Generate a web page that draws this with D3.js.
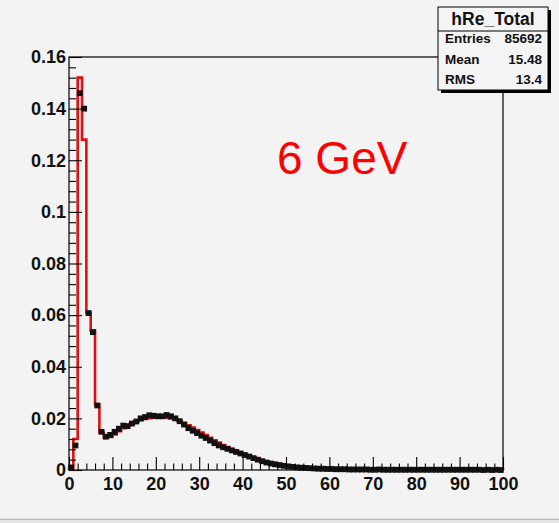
<!DOCTYPE html>
<html>
<head>
<meta charset="utf-8">
<script src="https://cdn.jsdelivr.net/npm/d3@7"></script>
<style>
  html, body { margin: 0; padding: 0; background: #f3f3f3; }
  svg { display: block; }
  text { font-family: "Liberation Sans", Arial, Helvetica, sans-serif; }
</style>
</head>
<body>
<script>
// ---- data ----
const binEdgesStart = 0;   // first bin lower edge
const binWidth = 1;        // bin width (units of x)
const dataValues = [
  0.0010, 0.0095, 0.1460, 0.1400, 0.0608, 0.0534, 0.0250, 0.0148, 0.0129, 0.0136,
  0.0148, 0.0160, 0.0172, 0.0170, 0.0180, 0.0188, 0.0200, 0.0205, 0.0212, 0.0210,
  0.0208, 0.0208, 0.0213, 0.0208, 0.0200, 0.0189, 0.0176, 0.0162, 0.0152, 0.0143,
  0.0133, 0.0124, 0.0114, 0.0104, 0.0095, 0.0088, 0.0082, 0.0076, 0.0070, 0.0064,
  0.0058, 0.0052, 0.0046, 0.0040, 0.0034, 0.0029, 0.0025, 0.0022, 0.0019, 0.0016,
  0.0014, 0.0012, 0.0010, 0.0009, 0.0008, 0.0007, 0.0006, 0.0005, 0.0005, 0.0004,
  0.0004, 0.0003, 0.0003, 0.0003, 0.0002, 0.0002, 0.0002, 0.0002, 0.0002, 0.0001,
  0.0001, 0.0002, 0.0001, 0.0001, 0.0001, 0.0001, 0.0001, 0.0001, 0.0001, 0.0001,
  0.0001, 0.0001, 0.0001, 0.0001, 0.0001, 0.0001, 0.0001, 0.0001, 0.0001, 0.0001,
  0.0001, 0.0001, 0.0001, 0.0001, 0.0001, 0.0000, 0.0001, 0.0000, 0.0001, 0.0000
];
const mcValues = [
  0.0005, 0.0120, 0.1520, 0.1280, 0.0610, 0.0540, 0.0255, 0.0145, 0.0125, 0.0128,
  0.0138, 0.0150, 0.0162, 0.0172, 0.0180, 0.0187, 0.0193, 0.0198, 0.0201, 0.0203,
  0.0204, 0.0204, 0.0203, 0.0200, 0.0196, 0.0190, 0.0182, 0.0173, 0.0164, 0.0155,
  0.0145, 0.0135, 0.0125, 0.0115, 0.0106, 0.0097, 0.0089, 0.0081, 0.0074, 0.0067,
  0.0061, 0.0055, 0.0049, 0.0044, 0.0039, 0.0034, 0.0030, 0.0026, 0.0023, 0.0020,
  0.0017, 0.0015, 0.0013, 0.0012, 0.0011, 0.0010, 0.0010, 0.0009, 0.0007, 0.0006,
  0.0005, 0.0004, 0.0004, 0.0004, 0.0003, 0.0003, 0.0003, 0.0003, 0.0002, 0.0002,
  0.0002, 0.0002, 0.0002, 0.0002, 0.0002, 0.0002, 0.0003, 0.0003, 0.0003, 0.0003,
  0.0003, 0.0003, 0.0003, 0.0003, 0.0003, 0.0003, 0.0003, 0.0003, 0.0003, 0.0003,
  0.0004, 0.0004, 0.0004, 0.0004, 0.0004, 0.0002, 0.0002, 0.0004, 0.0004, 0.0003
];
const xTicks = [0, 10, 20, 30, 40, 50, 60, 70, 80, 90, 100];
const yTicks = [0, 0.02, 0.04, 0.06, 0.08, 0.10, 0.12, 0.14, 0.16];
const xMinorStep = 2;
const yMinorStep = 0.004;
const statsTitle = "hRe_Total";
const statsRows = [["Entries", "85692"], ["Mean", "15.48"], ["RMS", "13.4"]];
const annotation = "6 GeV";

// ---- layout ----
const W = 559, H = 523;
const svg = d3.select("body").append("svg").attr("width", W).attr("height", H);
svg.append("rect").attr("width", W).attr("height", H).attr("fill", "#f3f3f3");
svg.append("line").attr("x1", 0).attr("x2", W).attr("y1", 519.5).attr("y2", 519.5)
  .attr("stroke", "#b8b8b8").attr("stroke-width", 1.5);
svg.append("rect").attr("x", 0).attr("y", 520.5).attr("width", W).attr("height", 3).attr("fill", "#e6e6e6");

const x = d3.scaleLinear().domain([0, 100]).range([69, 503]);
const y = d3.scaleLinear().domain([0, 0.16]).range([470, 57]);

const xMinor = d3.range(0, 100 + 1e-9, xMinorStep).filter(v => xTicks.indexOf(v) < 0);
const yMinor = d3.range(0, 0.16 + 1e-9, yMinorStep).map(v => +v.toFixed(3))
  .filter(v => !yTicks.some(t => Math.abs(t - v) < 1e-9));

// frame
svg.append("rect").attr("x", x(0)).attr("y", y(0.16))
  .attr("width", x(100) - x(0)).attr("height", y(0) - y(0.16))
  .attr("fill", "none").attr("stroke", "#000").attr("stroke-width", 1.2);

// MC histogram (red step outline)
const steps = [[x(binEdgesStart), y(0)]];
mcValues.forEach((v, i) => {
  const x0 = binEdgesStart + i * binWidth, x1 = x0 + binWidth;
  steps.push([x(x0), y(v)]);
  steps.push([x(x1), y(v)]);
});
steps.push([x(binEdgesStart + mcValues.length * binWidth), y(0)]);
svg.append("path").attr("d", d3.line()(steps))
  .attr("fill", "none").attr("stroke", "#dd1111").attr("stroke-width", 2.6)
  .attr("stroke-linejoin", "miter");

// data points (black squares with horizontal bars)
const pts = svg.append("g");
dataValues.forEach((v, i) => {
  const x0 = binEdgesStart + i * binWidth, xc = x0 + binWidth / 2;
  pts.append("line").attr("x1", x(x0)).attr("x2", x(x0 + binWidth))
    .attr("y1", y(v)).attr("y2", y(v)).attr("stroke", "#111").attr("stroke-width", 1.8);
  pts.append("rect").attr("x", x(xc) - 2.9).attr("y", y(v) - 2.9)
    .attr("width", 5.8).attr("height", 5.8).attr("fill", "#111");
});

// axes
const fmtY = d => String(+d.toFixed(2));
const gy = svg.append("g").attr("transform", `translate(${x(0)},0)`);
gy.call(d3.axisLeft(y).tickValues(yTicks).tickSizeInner(-13).tickSizeOuter(0).tickPadding(3).tickFormat(fmtY));
gy.append("g").call(d3.axisLeft(y).tickValues(yMinor).tickSizeInner(-7).tickSizeOuter(0).tickFormat(""));
const gx = svg.append("g").attr("transform", `translate(0,${y(0)})`);
gx.call(d3.axisBottom(x).tickValues(xTicks).tickSizeInner(-13).tickSizeOuter(0).tickPadding(7).tickFormat(d3.format("d")));
gx.append("g").call(d3.axisBottom(x).tickValues(xMinor).tickSizeInner(-6.5).tickSizeOuter(0).tickFormat(""));
svg.selectAll(".domain").remove();
svg.selectAll(".tick line").attr("stroke", "#000").attr("stroke-width", 1.1);
svg.selectAll(".tick text").attr("font-size", 18).attr("font-weight", "bold")
  .attr("fill", "#111").attr("font-family", '"Liberation Sans", Arial, sans-serif');

// annotation
svg.append("text").attr("x", 277).attr("y", 174).attr("fill", "#ff0000")
  .attr("font-size", 46).text(annotation);

// stats box
const bx = 438, by = 7, bw = 110, bh = 83, hh = 24;
svg.append("rect").attr("x", bx + 3).attr("y", by + 3).attr("width", bw).attr("height", bh).attr("fill", "#000");
svg.append("rect").attr("x", bx).attr("y", by).attr("width", bw).attr("height", bh)
  .attr("fill", "#f4f4f4").attr("stroke", "#000").attr("stroke-width", 1);
svg.append("line").attr("x1", bx).attr("x2", bx + bw).attr("y1", by + hh).attr("y2", by + hh)
  .attr("stroke", "#000").attr("stroke-width", 1);
svg.append("text").attr("x", bx + bw / 2).attr("y", by + 18).attr("text-anchor", "middle")
  .attr("font-size", 17.5).attr("font-weight", "bold").attr("fill", "#111").text(statsTitle);
statsRows.forEach((r, i) => {
  const yy = by + 36 + i * 20.5;
  svg.append("text").attr("x", bx + 7).attr("y", yy).attr("font-size", 13.5)
    .attr("font-weight", "bold").attr("fill", "#111").text(r[0]);
  svg.append("text").attr("x", bx + bw - 6).attr("y", yy).attr("text-anchor", "end")
    .attr("font-size", 13.5).attr("font-weight", "bold").attr("fill", "#111").text(r[1]);
});
</script>
</body>
</html>
